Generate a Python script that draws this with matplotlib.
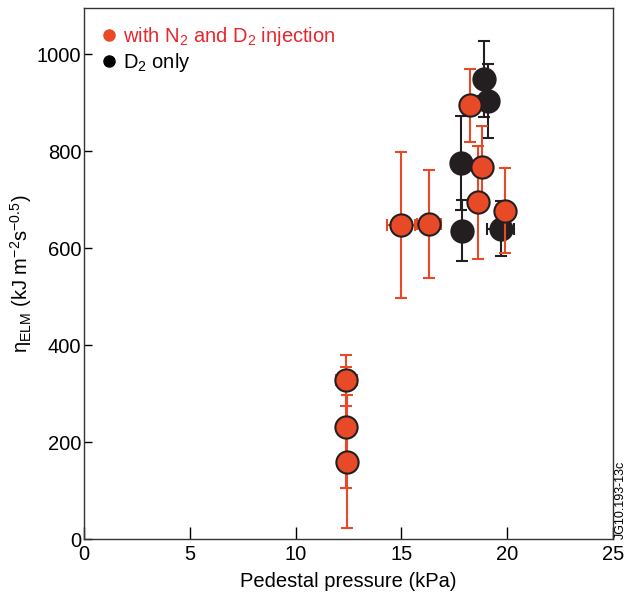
import matplotlib
matplotlib.use('Agg')
import matplotlib.pyplot as plt
from matplotlib.lines import Line2D

plt.rcParams['font.family'] = ['Liberation Sans', 'DejaVu Sans']
plt.rcParams['mathtext.fontset'] = 'custom'
plt.rcParams['mathtext.rm'] = 'Liberation Sans'
plt.rcParams['mathtext.it'] = 'Liberation Sans:italic'
plt.rcParams['mathtext.bf'] = 'Liberation Sans:bold'

# with N2 and D2 injection
n2_p = [15.0, 16.3, 18.8, 18.6, 19.9, 18.25, 12.4, 12.4, 12.45]
n2_eta = [648, 650, 768, 694, 677, 894, 327, 230, 159]
n2_perr = [0.66, 0.55, 0.4, 0.4, 0.4, 0.4, 0.5, 0.4, 0.4]
n2_etaerr = [150, 111, 83, 116, 88, 76, 52, 125, 137]

# D2 only
d2_p = [17.8, 17.85, 19.7, 18.9, 19.1]
d2_eta = [776, 636, 640, 948, 903]
d2_perr = [0.4, 0.4, 0.64, 0.4, 0.47]
d2_etaerr = [97, 63, 57, 78, 77]

red = '#e84a27'
black = '#231f20'

fig = plt.figure(figsize=(6.28, 5.92), dpi=100)
ax = fig.add_axes([0.134, 0.0895, 0.842, 0.897])

ax.errorbar(d2_p, d2_eta, xerr=d2_perr, yerr=d2_etaerr, fmt='o', color=black,
            ecolor=black, elinewidth=1.5, capsize=4.3, capthick=1.5,
            markersize=16, markerfacecolor=black, markeredgecolor=black,
            markeredgewidth=1.5, zorder=2)
ax.errorbar(n2_p, n2_eta, xerr=n2_perr, yerr=n2_etaerr, fmt='o', color=red,
            ecolor=red, elinewidth=1.5, capsize=4.3, capthick=1.5,
            markersize=16, markerfacecolor=red, markeredgecolor=black,
            markeredgewidth=1.5, zorder=3)

ax.set_xlim(0, 25)
ax.set_ylim(0, 1095)
ax.set_xticks([0, 5, 10, 15, 20, 25])
ax.set_yticks([0, 200, 400, 600, 800, 1000])
ax.tick_params(axis='x', direction='in', length=8.6, width=1, labelsize=14.5, pad=4)
ax.tick_params(axis='y', direction='in', length=6, width=1, labelsize=14.5, pad=2)
for s in ax.spines.values():
    s.set_linewidth(1)
    s.set_color('#333333')

ax.set_xlabel('Pedestal pressure (kPa)', fontsize=14.5, labelpad=6)
ax.set_ylabel(r'η$_{\mathrm{ELM}}$ (kJ m$^{-2}$s$^{-0.5}$)', fontsize=14.5, labelpad=2)

handles = [Line2D([], [], marker='o', linestyle='none', color=red, markersize=8),
           Line2D([], [], marker='o', linestyle='none', color='black', markersize=8)]
labels = [r'with N$_2$ and D$_2$ injection', r'D$_2$ only']
ax.legend(handles, labels, loc='upper left', bbox_to_anchor=(0.012, 0.99),
          frameon=False, fontsize=14.5,
          handlelength=0.6, handletextpad=0.4, labelspacing=0.15,
          borderaxespad=0.2, borderpad=0.4, labelcolor=['#e8262d', 'black'])

fig.text(0.988, 0.09, 'JG10.193-13c', rotation=90, fontsize=9,
         ha='center', va='bottom')

fig.savefig('out.png', dpi=100)
